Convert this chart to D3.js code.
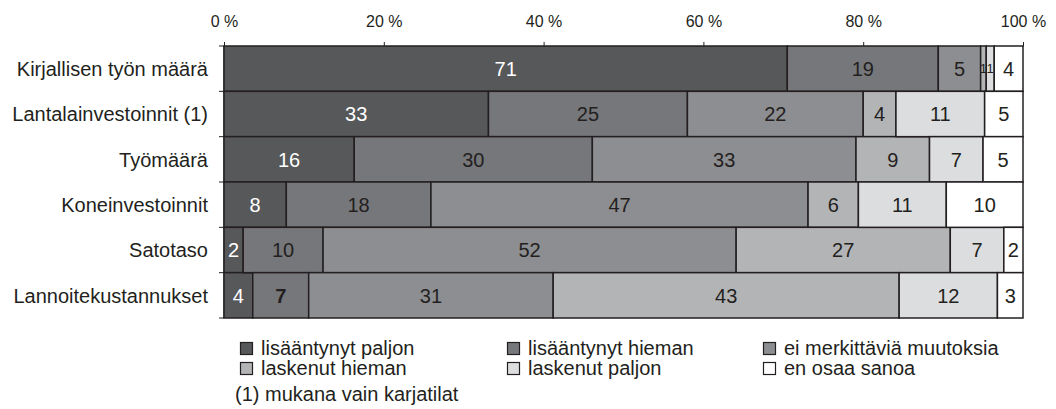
<!DOCTYPE html>
<html>
<head>
<meta charset="utf-8">
<script src="https://cdn.jsdelivr.net/npm/d3@7"></script>
<style>
  body { margin: 0; background: #fff; }
  svg text { font-family: "Liberation Sans", Arial, sans-serif; fill: #231f20; }
</style>
</head>
<body>
<div id="chart"></div>
<script>
// categories (top to bottom)
var categories = ["Kirjallisen työn määrä", "Lantalainvestoinnit (1)", "Työmäärä",
                  "Koneinvestoinnit", "Satotaso", "Lannoitekustannukset"];

// series, in stacking order
var seriesNames = ["lisääntynyt paljon", "lisääntynyt hieman", "ei merkittäviä muutoksia",
                   "laskenut hieman", "laskenut paljon", "en osaa sanoa"];

// shares in %, one value per category
var lisaantynytPaljon  = [70.5, 33.1, 16.3,  7.8,  2.4,  3.6];
var lisaantynytHieman  = [18.9, 24.9, 29.8, 18.1, 10.0,  7.0];
var eiMuutoksia        = [ 5.3, 22.0, 33.0, 47.2, 51.7, 30.6];
var laskenutHieman     = [ 0.7,  4.1,  9.2,  6.3, 26.8, 43.3];
var laskenutPaljon     = [ 1.0, 11.1,  6.7, 11.0,  6.7, 12.3];
var enOsaa             = [ 3.6,  4.8,  5.0,  9.6,  2.4,  3.2];

var tickValues = [0, 20, 40, 60, 80, 100];
var footnote = "(1) mukana vain karjatilat";

var colors = ["#57585a", "#76777a", "#8d8e91", "#b3b4b6", "#dcdddf", "#ffffff"];
var labelColors = ["#ffffff", "#231f20", "#231f20", "#231f20", "#231f20", "#231f20"];

var w = 1056, h = 409;

var svg = d3.select("#chart").append("svg")
    .attr("width", w)
    .attr("height", h);

// scales
var xScale = d3.scaleLinear().domain([0, 100]).range([224, 1023]);
var yScale = d3.scaleBand().domain(categories).range([46, 318]).padding(0);

// build a table for the stack
var allSeries = [lisaantynytPaljon, lisaantynytHieman, eiMuutoksia,
                 laskenutHieman, laskenutPaljon, enOsaa];
var table = categories.map(function(c, i) {
    var row = { cat: c };
    seriesNames.forEach(function(s, j) { row[s] = allSeries[j][i]; });
    return row;
});
var stacked = d3.stack().keys(seriesNames)(table);

// top axis
var gX = svg.append("g")
    .attr("transform", "translate(0,46)")
    .call(d3.axisTop(xScale).tickValues(tickValues).tickSize(4).tickSizeOuter(0)
        .tickFormat(function(d) { return d + " %"; }));
gX.select(".domain").attr("stroke", "#231f20");
gX.selectAll(".tick line").attr("stroke", "#231f20");
gX.selectAll(".tick text")
    .attr("font-size", "16px")
    .attr("font-family", "Liberation Sans, Arial, sans-serif")
    .attr("fill", "#231f20")
    .attr("y", -19)
    .attr("dy", 0);

// left axis line and ticks at band edges
var edges = categories.map(function(c) { return yScale(c); }).concat([yScale.range()[1]]);
svg.append("line")
    .attr("x1", xScale(0)).attr("x2", xScale(0))
    .attr("y1", 46).attr("y2", 318)
    .attr("stroke", "#231f20").attr("stroke-width", 1.2);
svg.selectAll(".ytick")
    .data(edges)
    .enter()
    .append("line")
    .attr("x1", xScale(0) - 5).attr("x2", xScale(0))
    .attr("y1", function(d) { return d; }).attr("y2", function(d) { return d; })
    .attr("stroke", "#231f20");

// bars
var layers = svg.selectAll(".layer")
    .data(stacked)
    .enter()
    .append("g")
    .attr("fill", function(d, i) { return colors[i]; });

layers.selectAll("rect")
    .data(function(d) { return d; })
    .enter()
    .append("rect")
    .attr("x", function(d) { return xScale(d[0]); })
    .attr("y", function(d) { return yScale(d.data.cat); })
    .attr("width", function(d) { return xScale(d[1]) - xScale(d[0]); })
    .attr("height", yScale.bandwidth())
    .attr("stroke", "#231f20")
    .attr("stroke-width", 1.5);

// value labels
stacked.forEach(function(layer, i) {
    svg.selectAll(".lbl" + i)
        .data(layer)
        .enter()
        .append("text")
        .attr("x", function(d) { return (xScale(d[0]) + xScale(d[1])) / 2; })
        .attr("y", function(d) { return yScale(d.data.cat) + yScale.bandwidth() / 2; })
        .attr("dy", "0.36em")
        .attr("text-anchor", "middle")
        .attr("font-size", function(d) {            // tiny segments get a narrower label
            return (d[1] - d[0]) < 1.5 ? "13px" : "20px";
        })
        .style("fill", labelColors[i])
        .attr("font-weight", function(d) {          // the "7" of Lannoitekustannukset is bold
            return (i === 1 && d.data.cat === "Lannoitekustannukset") ? "bold" : "normal";
        })
        .text(function(d) { return Math.round(d[1] - d[0]); });
});

// category labels
svg.selectAll(".cat")
    .data(categories)
    .enter()
    .append("text")
    .attr("x", 208)
    .attr("y", function(d) { return yScale(d) + yScale.bandwidth() / 2; })
    .attr("dy", "0.36em")
    .attr("text-anchor", "end")
    .attr("font-size", "20px")
    .text(function(d) { return d; });

// legend: 3 columns x 2 rows
var legX = [240, 507, 763], legY = [342, 362];
var leg = svg.selectAll(".leg")
    .data(seriesNames)
    .enter()
    .append("g")
    .attr("transform", function(d, i) {
        return "translate(" + legX[i % 3] + "," + legY[Math.floor(i / 3)] + ")";
    });
leg.append("rect")
    .attr("x", 0.5).attr("y", 0.5)
    .attr("width", 12).attr("height", 12)
    .attr("fill", function(d, i) { return colors[i]; })
    .attr("stroke", "#231f20")
    .attr("stroke-width", 1.2);
leg.append("text")
    .attr("x", 21)
    .attr("y", 13)
    .attr("font-size", "20px")
    .text(function(d) { return d; });

// footnote
svg.append("text")
    .attr("x", 235)
    .attr("y", 401)
    .attr("font-size", "20px")
    .text(footnote);
</script>
</body>
</html>
